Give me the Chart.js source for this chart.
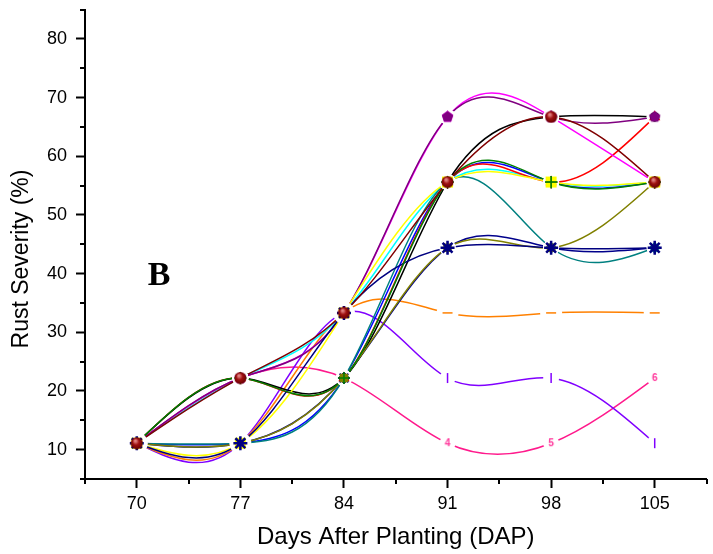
<!DOCTYPE html>
<html>
<head>
<meta charset="utf-8">
<script src="https://cdn.jsdelivr.net/npm/chart.js@4.4.0/dist/chart.umd.min.js"></script>
<style>
  html, body { margin: 0; padding: 0; background: #fff; overflow: hidden; }
</style>
</head>
<body>
<canvas id="rust" width="716" height="554"></canvas>
<script>
// days after planting
var days = [70, 77, 84, 91, 98, 105];

// rust severity (%) per treatment line
var purpleVals  = [11.1, 22.2, 33.3, 66.7, 66.7, 66.7];
var magentaVals = [11.1, 22.2, 33.3, 66.7, 66.7, 55.6];
var brownVals   = [11.1, 22.2, 33.3, 55.6, 66.7, 55.6];
var blackVals   = [11.1, 22.2, 22.2, 55.6, 66.7, 66.7];
var pinkVals    = [11.1, 22.2, 22.2, 11.1, 11.1, 22.2];
var violetVals  = [11.1, 11.1, 33.3, 22.2, 22.2, 11.1];
var orangeVals  = [11.1, 11.1, 33.3, 33.3, 33.3, 33.3];
var navyVals    = [11.1, 11.1, 33.3, 44.4, 44.4, 44.4];
var navy2Vals   = [11.1, 11.1, 22.2, 44.4, 44.4, 44.4];
var oliveVals   = [11.1, 11.1, 22.2, 44.4, 44.4, 55.6];
var tealVals    = [11.1, 11.1, 22.2, 55.6, 44.4, 44.4];
var yellowVals  = [11.1, 11.1, 33.3, 55.6, 55.6, 55.6];
var greenVals   = [11.1, 22.2, 22.2, 55.6, 55.6, 55.6];
var redVals     = [11.1, 22.2, 22.2, 55.6, 55.6, 66.7];
var blueVals    = [11.1, 11.1, 22.2, 55.6, 55.6, 55.6];
var cyanVals    = [11.1, 22.2, 33.3, 55.6, 55.6, 55.6];

// little canvases used as point markers
function marker(size, draw) {
    var c = document.createElement('canvas');
    c.width = size; c.height = size;
    draw(c.getContext('2d'), size);
    return c;
}
var pentagon = function(col) {
    return marker(13, function(g, s) {
        g.fillStyle = col;
        g.beginPath();
        for (var i = 0; i < 5; i++) {
            var a = -Math.PI / 2 + i * 2 * Math.PI / 5;
            g.lineTo(s / 2 + 6 * Math.cos(a), s / 2 + 6 * Math.sin(a));
        }
        g.closePath();
        g.fill();
    });
};
var ball = marker(13, function(g, s) {
    var gr = g.createRadialGradient(5, 4, 1, 6.5, 6.5, 6.5);
    gr.addColorStop(0, '#e08080');
    gr.addColorStop(0.4, '#a01010');
    gr.addColorStop(1, '#600000');
    g.fillStyle = gr;
    g.beginPath(); g.arc(6.5, 6.5, 6, 0, 2 * Math.PI); g.fill();
});
var yellowPlus = marker(13, function(g, s) {
    g.fillStyle = '#ffff00';
    g.fillRect(1, 1, 11, 11);
    g.strokeStyle = '#404000';
    g.lineWidth = 1;
    g.beginPath(); g.moveTo(6.5, 0); g.lineTo(6.5, 13); g.moveTo(0, 6.5); g.lineTo(13, 6.5); g.stroke();
});
function digit(n) {
    return marker(14, function(g, s) {
        g.fillStyle = '#ff3399';
        g.font = 'bold 10px Arial';
        g.textAlign = 'center';
        g.textBaseline = 'middle';
        g.fillText(String(n), 7, 7.5);
    });
}
var digits = [digit(1), digit(2), digit(3), digit(4), digit(5), digit(6)];

function series(vals, color, style, extra) {
    var ds = {
        data: vals,
        borderColor: color,
        backgroundColor: color,
        borderWidth: 1.5,
        pointStyle: style,
        pointRadius: 5,
        pointBorderWidth: 1.5,
        fill: false,
        tension: 0.4,
        gap: 8
    };
    for (var k in extra) ds[k] = extra[k];
    return ds;
}

// first in list is drawn on top
var datasets = [
    series(brownVals,   '#800000', ball),
    series(greenVals,   '#008000', 'cross', {pointRadius: 6}),
    series(navyVals,    '#000080', 'star', {pointRadius: 7, pointBorderWidth: 2.5}),
    series(yellowVals,  '#ffff00', yellowPlus),
    series(purpleVals,  '#800080', pentagon('#800080')),
    series(oliveVals,   '#808000', 'rect'),
    series(magentaVals, '#ff00ff', pentagon('#ff00ff')),
    series(blackVals,   '#000000', 'circle', {pointRadius: 4}),
    series(navy2Vals,   '#00008b', 'star', {pointRadius: 6}),
    series(tealVals,    '#008080', 'rectRot'),
    series(redVals,     '#ff0000', 'triangle'),
    series(blueVals,    '#0000ff', 'crossRot', {pointRadius: 6}),
    series(cyanVals,    '#00ffff', 'rectRot'),
    series(orangeVals,  '#ff8000', 'line', {pointRadius: 5, gap: 11}),
    series(violetVals,  '#8000ff', 'line', {pointRotation: 90, pointRadius: 5}),
    series(pinkVals,    '#ff1a8c', digits)
];

function isMajorDay(v) {
    var k = (v - 70) / 7;
    return Math.abs(k - Math.round(k)) < 1e-6;
}

// cubic spline through the points (like the original plotting program)
var naturalSpline = {
    id: 'naturalSpline',
    afterDatasetsUpdate: function(chart) {
        chart.data.datasets.forEach(function(ds, di) {
            var meta = chart.getDatasetMeta(di);
            var p = meta.data, n = p.length;
            if (n < 3) return;
            var h = [], M = new Array(n).fill(0);
            for (var i = 0; i < n - 1; i++) h[i] = p[i + 1].x - p[i].x;
            var a = [], b = [], c = [], r = [];
            for (var i = 1; i < n - 1; i++) {
                a[i] = h[i - 1]; b[i] = 2 * (h[i - 1] + h[i]); c[i] = h[i];
                r[i] = 6 * ((p[i + 1].y - p[i].y) / h[i] - (p[i].y - p[i - 1].y) / h[i - 1]);
            }
            for (var i = 2; i < n - 1; i++) {
                var m = a[i] / b[i - 1];
                b[i] -= m * c[i - 1];
                r[i] -= m * r[i - 1];
            }
            for (var i = n - 2; i >= 1; i--) {
                M[i] = (r[i] - (i < n - 2 ? c[i] * M[i + 1] : 0)) / b[i];
            }
            var d = [];
            for (var i = 0; i < n - 1; i++) {
                d[i] = (p[i + 1].y - p[i].y) / h[i] - h[i] * (2 * M[i] + M[i + 1]) / 6;
            }
            d[n - 1] = (p[n - 1].y - p[n - 2].y) / h[n - 2] + h[n - 2] * (M[n - 2] + 2 * M[n - 1]) / 6;
            for (var i = 0; i < n - 1; i++) {
                p[i].cp2x = p[i].x + h[i] / 3;
                p[i].cp2y = p[i].y + d[i] * h[i] / 3;
                p[i + 1].cp1x = p[i + 1].x - h[i] / 3;
                p[i + 1].cp1y = p[i + 1].y - d[i + 1] * h[i] / 3;
            }
            meta.dataset._pointsUpdated = true;
        });
    }
};

// leave a small blank around every symbol, then put the symbols back on top
var symbolGaps = {
    id: 'symbolGaps',
    afterDatasetsDraw: function(chart) {
        var g = chart.ctx;
        var n = chart.data.datasets.length;
        g.save();
        g.fillStyle = '#fff';
        chart.data.datasets.forEach(function(ds, di) {
            chart.getDatasetMeta(di).data.forEach(function(pt) {
                g.beginPath(); g.arc(pt.x, pt.y, ds.gap, 0, 2 * Math.PI); g.fill();
            });
        });
        g.restore();
        for (var di = n - 1; di >= 0; di--) {
            chart.getDatasetMeta(di).data.forEach(function(pt) { pt.draw(g, chart.chartArea); });
        }
    }
};

var decorations = {
    id: 'decorations',
    afterDraw: function(chart) {
        var g = chart.ctx;
        var xs = chart.scales.x, ys = chart.scales.y;
        g.save();
        g.strokeStyle = '#000';
        g.lineWidth = 2;
        xs.ticks.forEach(function(t) {
            if (!isMajorDay(t.value)) {
                var px = Math.round(xs.getPixelForValue(t.value));
                g.beginPath(); g.moveTo(px, ys.bottom); g.lineTo(px, ys.bottom + 5); g.stroke();
            }
        });
        ys.ticks.forEach(function(t) {
            if (t.value % 10 !== 0) {
                var py = Math.round(ys.getPixelForValue(t.value));
                g.beginPath(); g.moveTo(xs.left, py); g.lineTo(xs.left - 5, py); g.stroke();
            }
        });
        // y axis title
        g.fillStyle = '#000';
        g.font = '23px "Liberation Sans"';
        g.textAlign = 'center';
        g.textBaseline = 'middle';
        g.translate(22, 259);
        g.rotate(-Math.PI / 2);
        g.fillText('Rust Severity (%)', 0, 0);
        g.restore();
        // panel letter
        g.save();
        g.fillStyle = '#000';
        g.font = 'bold 34px "Liberation Serif"';
        g.textAlign = 'center';
        g.textBaseline = 'middle';
        g.fillText('B', xs.getPixelForValue(71.5), ys.getPixelForValue(39.5));
        g.restore();
    }
};

var ctx = document.getElementById('rust').getContext('2d');
var chart = new Chart(ctx, {
    type: 'line',
    data: {
        labels: days,
        datasets: datasets.map(function(d) {
            return Object.assign({}, d, {
                data: d.data.map(function(v, i) { return {x: days[i], y: v}; })
            });
        })
    },
    options: {
        responsive: false,
        animation: false,
        layout: { padding: { top: 8, right: 0, left: 0, bottom: 0 } },
        plugins: { legend: { display: false }, tooltip: { enabled: false } },
        scales: {
            x: {
                type: 'linear',
                min: 66.5,
                max: 108.5,
                afterFit: function(s) { s.height = 75; s.paddingLeft = 0; s.paddingRight = 0; },
                border: { display: true, color: '#000', width: 2 },
                grid: {
                    drawOnChartArea: false,
                    drawTicks: true,
                    tickLength: 9,
                    tickWidth: 2,
                    tickColor: function(c) {
                        return isMajorDay(c.tick.value) ? '#000' : 'rgba(0,0,0,0)';
                    }
                },
                ticks: {
                    stepSize: 3.5,
                    autoSkip: false,
                    maxRotation: 0,
                    padding: 5,
                    color: '#000',
                    font: { family: 'Liberation Sans', size: 18 },
                    callback: function(v) {
                        return isMajorDay(v) && v >= 69 && v <= 106 ? String(Math.round(v)) : '';
                    }
                },
                title: {
                    display: true,
                    text: 'Days After Planting (DAP)',
                    color: '#000',
                    font: { family: 'Liberation Sans', size: 24 },
                    padding: { top: 0, bottom: 2 }
                }
            },
            y: {
                min: 5,
                max: 85,
                afterFit: function(s) { s.width = 85; s.paddingTop = 0; s.paddingBottom = 0; },
                border: { display: true, color: '#000', width: 2 },
                grid: {
                    drawOnChartArea: false,
                    drawTicks: true,
                    tickLength: 9,
                    tickWidth: 2,
                    tickColor: function(c) {
                        return c.tick.value % 10 === 0 ? '#000' : 'rgba(0,0,0,0)';
                    }
                },
                ticks: {
                    stepSize: 5,
                    padding: 9,
                    color: '#000',
                    font: { family: 'Liberation Sans', size: 18 },
                    callback: function(v) {
                        return v % 10 === 0 && v >= 10 && v <= 80 ? String(v) : '';
                    }
                }
            }
        }
    },
    plugins: [naturalSpline, symbolGaps, decorations]
});
</script>
</body>
</html>
